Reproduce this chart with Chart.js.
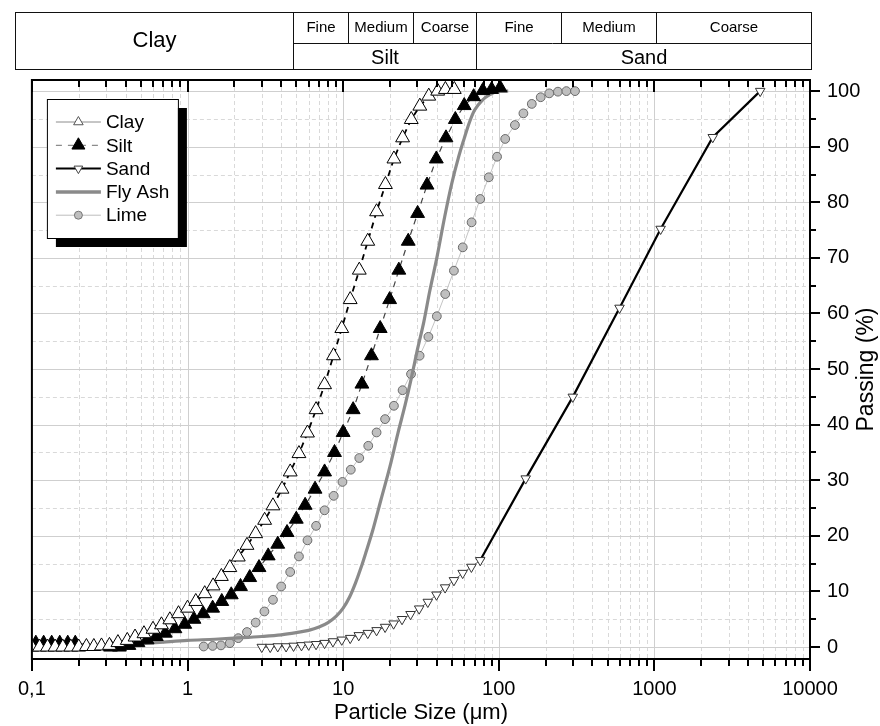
<!DOCTYPE html>
<html>
<head>
<meta charset="utf-8">
<script src="https://cdn.jsdelivr.net/npm/chart.js@4.4.1/dist/chart.umd.min.js"></script>
<style>
  html, body { margin: 0; padding: 0; background: #fff; }
  canvas { display: block; }
</style>
</head>
<body>
<canvas id="psd" width="880" height="726"></canvas>
<script>
const FONT = '"Liberation Sans", Arial, sans-serif';

// particle size (µm) / passing (%)
const clayX = [0.1, 0.112, 0.126, 0.141, 0.158, 0.178, 0.2, 0.224, 0.25, 0.28, 0.315, 0.357, 0.41, 0.46, 0.525,
  0.6, 0.68, 0.77, 0.875, 1.0, 1.13, 1.29, 1.46, 1.65, 1.87, 2.12, 2.41, 2.74, 3.13, 3.54,
  4.05, 4.57, 5.2, 5.9, 6.7, 7.6, 8.67, 9.8, 11.1, 12.7, 14.4, 16.4, 18.7, 21.2, 24.1,
  27.4, 31.1, 35.5, 40.5, 45.4, 51.8];
const clayY = [0, 0, 0, 0, 0, 0, 0, 0.1, 0.1, 0.2, 0.3, 0.8, 1.2, 1.8, 2.4,
  3.2, 4.0, 4.9, 6.0, 7.0, 8.2, 9.6, 11.0, 12.7, 14.3, 16.2, 18.3, 20.4, 22.8, 25.4,
  28.4, 31.5, 34.8, 38.5, 42.7, 47.2, 52.4, 57.3, 62.5, 67.8, 73.0, 78.3, 83.2, 87.8, 91.6,
  94.9, 97.3, 99.1, 100.0, 100.3, 100.3];

const siltX = [0.106, 0.119, 0.134, 0.151, 0.17, 0.19, 0.32, 0.365, 0.42, 0.48, 0.55,
  0.63, 0.72, 0.83, 0.96, 1.10, 1.26, 1.45, 1.66, 1.91, 2.19, 2.51, 2.88, 3.3, 3.8, 4.36,
  5.0, 5.7, 6.6, 7.6, 8.8, 10.0, 11.6, 13.2, 15.2, 17.3, 19.9, 22.8, 26.2, 30.1, 34.6,
  39.7, 45.8, 52.6, 60, 69, 79, 90, 102];
const siltY = [0.7, 0.7, 0.7, 0.7, 0.7, 0.7, 0, 0, 0.3, 0.8, 1.3,
  1.9, 2.5, 3.3, 4.1, 5.0, 6.0, 7.0, 8.2, 9.4, 10.9, 12.5, 14.3, 16.4, 18.5, 20.6,
  23.0, 25.5, 28.4, 31.5, 35.0, 38.6, 42.7, 47.3, 52.4, 57.3, 62.5, 67.8, 73.0, 78.0, 83.1,
  87.8, 91.6, 94.9, 97.4, 99.0, 100.1, 100.3, 100.6];

const sandX = [3.0, 3.4, 3.8, 4.3, 4.8, 5.4, 6.0, 6.7, 7.6, 8.6, 9.8, 11.1, 12.6, 14.4, 16.4, 18.6,
  21.1, 23.9, 27.1, 30.8, 35.0, 39.8, 45.2, 51.5, 58.6, 66.7, 76, 149, 299, 597, 1097, 2372, 4786];
const sandY = [0, 0, 0.1, 0.1, 0.2, 0.3, 0.4, 0.5, 0.7, 1.0, 1.3, 1.6, 2.1, 2.5, 3.0, 3.6,
  4.2, 5.0, 5.9, 6.9, 8.1, 9.4, 10.7, 12.0, 13.3, 14.4, 15.6, 30.3, 45.0, 61.0, 75.2, 91.7, 100];

const flyAshX = [0.28, 0.4, 0.5, 0.7, 1, 1.5, 2, 3, 4, 5, 6, 7, 8, 9, 10, 11, 12, 13, 14, 15.5,
  17.5, 20, 22.5, 25, 27.5, 30, 33, 36, 40, 45, 50, 55, 60, 65, 70, 78, 88, 100, 115];
const flyAshY = [0, 0.4, 0.6, 0.9, 1.2, 1.4, 1.6, 1.9, 2.2, 2.6, 3.0, 3.6, 4.4, 5.5, 7.0, 9.0, 11.5, 14.2, 17.0, 21.0,
  26.5, 32.5, 38.5, 43.5, 48.5, 53.5, 58.5, 64.0, 70.0, 77.5, 83.5, 88.0, 91.5, 94.5, 96.6, 98.3, 99.4, 100, 100];

const limeX = [1.27, 1.45, 1.64, 1.87, 2.12, 2.41, 2.74, 3.12, 3.54, 4.0, 4.57, 5.2, 5.9, 6.7, 7.6,
  8.7, 9.9, 11.2, 12.7, 14.5, 16.4, 18.6, 21.2, 24.1, 27.3, 31.0, 35.3, 40.0, 45.3, 51.5,
  58.7, 66.9, 76.0, 86.3, 97.5, 110, 127, 144, 163, 186, 211, 240, 272, 309];
const limeY = [0.1, 0.2, 0.3, 0.7, 1.6, 2.7, 4.4, 6.4, 8.5, 10.9, 13.5, 16.3, 19.2, 21.8, 24.6,
  27.2, 29.7, 31.9, 34.0, 36.2, 38.6, 41.0, 43.4, 46.2, 49.1, 52.4, 55.8, 59.5, 63.5, 67.7,
  71.9, 76.4, 80.6, 84.5, 88.2, 91.4, 93.9, 96.0, 97.7, 98.9, 99.6, 99.9, 100, 100];

const decadeTicks = [0.1, 1, 10, 100, 1000, 10000];
const passingTicks = [0, 10, 20, 30, 40, 50, 60, 70, 80, 90, 100];

// classification header: boundaries in µm and labels
const bandEdges = [4.75, 10.8, 28, 71, 250, 1020];
const subLabels = ['Fine', 'Medium', 'Coarse', 'Fine', 'Medium', 'Coarse'];

const pts = (xs, ys) => xs.map((v, i) => ({ x: v, y: ys[i] }));

function mark(ctx, style, x, y, r, fill, stroke) {
  ctx.beginPath();
  if (style === 'circle') {
    ctx.arc(x, y, r, 0, Math.PI * 2);
  } else {
    const s = style === 'down' ? -1 : 1;
    ctx.moveTo(x, y - s * r);
    ctx.lineTo(x + r * 0.866, y + s * r / 2);
    ctx.lineTo(x - r * 0.866, y + s * r / 2);
    ctx.closePath();
  }
  ctx.fillStyle = fill;
  ctx.fill();
  ctx.lineWidth = 1;
  ctx.strokeStyle = stroke;
  ctx.stroke();
}

// grid, frame and tick marks
const frame = {
  id: 'frame',
  beforeDatasetsDraw(chart) {
    const { ctx, chartArea: a, scales: { x, y } } = chart;
    const px = v => Math.round(x.getPixelForValue(v)) + 0.5;
    const py = v => Math.round(y.getPixelForValue(v)) + 0.5;
    ctx.save();
    ctx.lineWidth = 1;
    ctx.strokeStyle = '#d9d9d9';
    ctx.setLineDash([4, 3]);
    ctx.beginPath();
    for (const d of [0.1, 1, 10, 100, 1000]) {
      for (let k = 2; k <= 9; k++) {
        ctx.moveTo(px(k * d), a.top);
        ctx.lineTo(px(k * d), a.bottom);
      }
    }
    for (let v = 5; v < 100; v += 10) {
      ctx.moveTo(a.left, py(v));
      ctx.lineTo(a.right, py(v));
    }
    ctx.stroke();
    ctx.setLineDash([]);
    ctx.strokeStyle = '#cfcfcf';
    ctx.beginPath();
    for (const d of [1, 10, 100, 1000]) {
      ctx.moveTo(px(d), a.top);
      ctx.lineTo(px(d), a.bottom);
    }
    for (const v of passingTicks) {
      ctx.moveTo(a.left, py(v));
      ctx.lineTo(a.right, py(v));
    }
    ctx.stroke();
    ctx.restore();
  },
  afterDatasetsDraw(chart) {
    const { ctx, chartArea: a, scales: { x, y } } = chart;
    const px = v => Math.round(x.getPixelForValue(v));
    const py = v => Math.round(y.getPixelForValue(v));
    ctx.save();
    ctx.strokeStyle = '#000';
    ctx.lineWidth = 2;
    ctx.strokeRect(a.left, a.top, a.right - a.left, a.bottom - a.top);
    ctx.beginPath();
    for (const d of [0.1, 1, 10, 100, 1000, 10000]) {
      ctx.moveTo(px(d), a.bottom);
      ctx.lineTo(px(d), a.bottom + 12);
      ctx.moveTo(px(d), a.top);
      ctx.lineTo(px(d), a.top + 12);
      if (d === 10000) continue;
      for (let k = 2; k <= 9; k++) {
        ctx.moveTo(px(k * d), a.bottom);
        ctx.lineTo(px(k * d), a.bottom + 7);
        ctx.moveTo(px(k * d), a.top);
        ctx.lineTo(px(k * d), a.top + 7);
      }
    }
    for (const v of passingTicks) {
      ctx.moveTo(a.right, py(v));
      ctx.lineTo(a.right + 10, py(v));
    }
    for (let v = 5; v < 100; v += 10) {
      ctx.moveTo(a.right, py(v));
      ctx.lineTo(a.right + 6, py(v));
    }
    ctx.stroke();
    ctx.restore();
  },
  afterDraw(chart) {
    const { ctx, chartArea: a, scales: { x } } = chart;
    ctx.save();
    // y axis title, reading bottom to top
    ctx.fillStyle = '#000';
    ctx.font = '23px ' + FONT;
    ctx.textAlign = 'center';
    ctx.textBaseline = 'middle';
    ctx.translate(867, (a.top + a.bottom) / 2);
    ctx.rotate(-Math.PI / 2);
    ctx.fillText('Passing (%)', 0, 0);
    ctx.restore();

    // classification header
    ctx.save();
    const L = 15.5, R = 811.5, T = 12.5, M = 43.5, B = 69.5;
    const e = bandEdges.map(v => Math.round(x.getPixelForValue(v)) + 0.5);
    ctx.strokeStyle = '#111';
    ctx.lineWidth = 1;
    ctx.strokeRect(L, T, R - L, B - T);
    ctx.beginPath();
    ctx.moveTo(e[0], T); ctx.lineTo(e[0], B);
    ctx.moveTo(e[3], T); ctx.lineTo(e[3], B);
    for (const i of [1, 2, 4, 5]) { ctx.moveTo(e[i], T); ctx.lineTo(e[i], M); }
    ctx.moveTo(e[0], M); ctx.lineTo(R, M);
    ctx.stroke();
    ctx.fillStyle = '#000';
    ctx.textAlign = 'center';
    ctx.textBaseline = 'middle';
    ctx.font = '22px ' + FONT;
    ctx.fillText('Clay', (L + e[0]) / 2, 41);
    ctx.font = '20px ' + FONT;
    ctx.fillText('Silt', (e[0] + e[3]) / 2, 58);
    ctx.fillText('Sand', (e[3] + R) / 2, 58);
    ctx.font = '15px ' + FONT;
    const cells = [e[0], e[1], e[2], e[3], e[4], e[5], R];
    subLabels.forEach((t, i) => ctx.fillText(t, (cells[i] + cells[i + 1]) / 2, 28));
    ctx.restore();

    // legend with drop shadow
    ctx.save();
    const bx = a.left + 15, by = a.top + 19, bw = 131, bh = 139;
    ctx.fillStyle = '#000';
    ctx.fillRect(bx + 9, by + 9, bw, bh);
    ctx.fillStyle = '#fff';
    ctx.fillRect(bx, by, bw, bh);
    ctx.strokeStyle = '#000';
    ctx.lineWidth = 1;
    ctx.strokeRect(bx + 0.5, by + 0.5, bw, bh);
    const items = [
      { t: 'Clay', c: '#8c8c8c', w: 1, dash: [], m: 'up', r: 5.5, f: '#fff', s: '#555' },
      { t: 'Silt', c: '#8c8c8c', w: 1.2, dash: [6, 6], m: 'up', r: 7.5, f: '#000', s: '#000' },
      { t: 'Sand', c: '#000', w: 2, dash: [], m: 'down', r: 5, f: '#fff', s: '#444' },
      { t: 'Fly Ash', c: '#8a8a8a', w: 3.5, dash: [], m: null },
      { t: 'Lime', c: '#bdbdbd', w: 1, dash: [], m: 'circle', r: 4, f: '#bfbfbf', s: '#777' }
    ];
    const x0 = bx + 9, x1 = bx + 54, xm = (x0 + x1) / 2;
    items.forEach((it, i) => {
      const yy = by + 23 + i * 23.3;
      ctx.setLineDash(it.dash);
      ctx.strokeStyle = it.c;
      ctx.lineWidth = it.w;
      ctx.beginPath();
      ctx.moveTo(x0, yy);
      ctx.lineTo(x1, yy);
      ctx.stroke();
      ctx.setLineDash([]);
      if (it.m) mark(ctx, it.m, xm, yy, it.r, it.f, it.s);
      ctx.fillStyle = '#000';
      ctx.font = '19px ' + FONT;
      ctx.textAlign = 'left';
      ctx.textBaseline = 'middle';
      ctx.fillText(it.t, bx + 59, yy + 1);
    });
    ctx.restore();
  }
};

new Chart(document.getElementById('psd'), {
  type: 'line',
  data: {
    datasets: [
      {
        label: 'Clay',
        data: pts(clayX, clayY),
        borderColor: '#000',
        borderWidth: 1.8,
        borderDash: [6, 5],
        pointStyle: 'triangle',
        pointRadius: 8,
        pointBackgroundColor: '#fff',
        pointBorderColor: '#000',
        pointBorderWidth: 1
      },
      {
        label: 'Silt',
        data: pts(siltX, siltY),
        borderColor: '#444',
        borderWidth: 1.2,
        borderDash: [6, 5],
        pointStyle: 'triangle',
        pointRadius: 8,
        pointBackgroundColor: '#000',
        pointBorderColor: '#000',
        pointBorderWidth: 1
      },
      {
        label: 'Sand',
        data: pts(sandX, sandY),
        borderColor: '#000',
        borderWidth: 2,
        segment: {
          borderWidth: c => (c.p0.parsed.x >= 70 ? 2.2 : 1),
          borderColor: c => (c.p0.parsed.x >= 70 ? '#000' : '#666')
        },
        pointStyle: 'triangle',
        pointRotation: 180,
        pointRadius: 5.5,
        pointBackgroundColor: '#fff',
        pointBorderColor: '#333',
        pointBorderWidth: 1
      },
      {
        label: 'Fly Ash',
        data: pts(flyAshX, flyAshY),
        borderColor: '#8a8a8a',
        borderWidth: 3.2,
        cubicInterpolationMode: 'monotone',
        pointRadius: 0
      },
      {
        label: 'Lime',
        data: pts(limeX, limeY),
        borderColor: '#c4c4c4',
        borderWidth: 1,
        pointStyle: 'circle',
        pointRadius: 4.4,
        pointBackgroundColor: '#bfbfbf',
        pointBorderColor: '#6a6a6a',
        pointBorderWidth: 1
      }
    ]
  },
  options: {
    responsive: false,
    animation: false,
    devicePixelRatio: 1,
    events: [],
    layout: { padding: { left: 28, top: 80, right: 0, bottom: 0 } },
    plugins: { legend: { display: false }, tooltip: { enabled: false } },
    scales: {
      x: {
        type: 'logarithmic',
        position: 'bottom',
        min: 0.1,
        max: 10000,
        afterBuildTicks: s => { s.ticks = decadeTicks.map(v => ({ value: v })); },
        afterFit: s => { s.height = 67; },
        grid: { display: false, drawTicks: false },
        border: { display: false },
        ticks: {
          autoSkip: false,
          maxRotation: 0,
          padding: 18,
          color: '#000',
          font: { family: FONT, size: 20 },
          callback: v => (v === 0.1 ? '0,1' : String(v))
        },
        title: {
          display: true,
          text: 'Particle Size (μm)',
          color: '#000',
          font: { family: FONT, size: 22 },
          padding: { top: 0, bottom: 0 }
        }
      },
      y: {
        type: 'linear',
        position: 'right',
        min: -2.15,
        max: 102,
        afterBuildTicks: s => { s.ticks = passingTicks.map(v => ({ value: v })); },
        afterFit: s => { s.width = 70; },
        grid: { display: false, drawTicks: false },
        border: { display: false },
        ticks: {
          padding: 17,
          color: '#000',
          font: { family: FONT, size: 20 },
          callback: v => String(v)
        }
      }
    }
  },
  plugins: [frame]
});
</script>
</body>
</html>
